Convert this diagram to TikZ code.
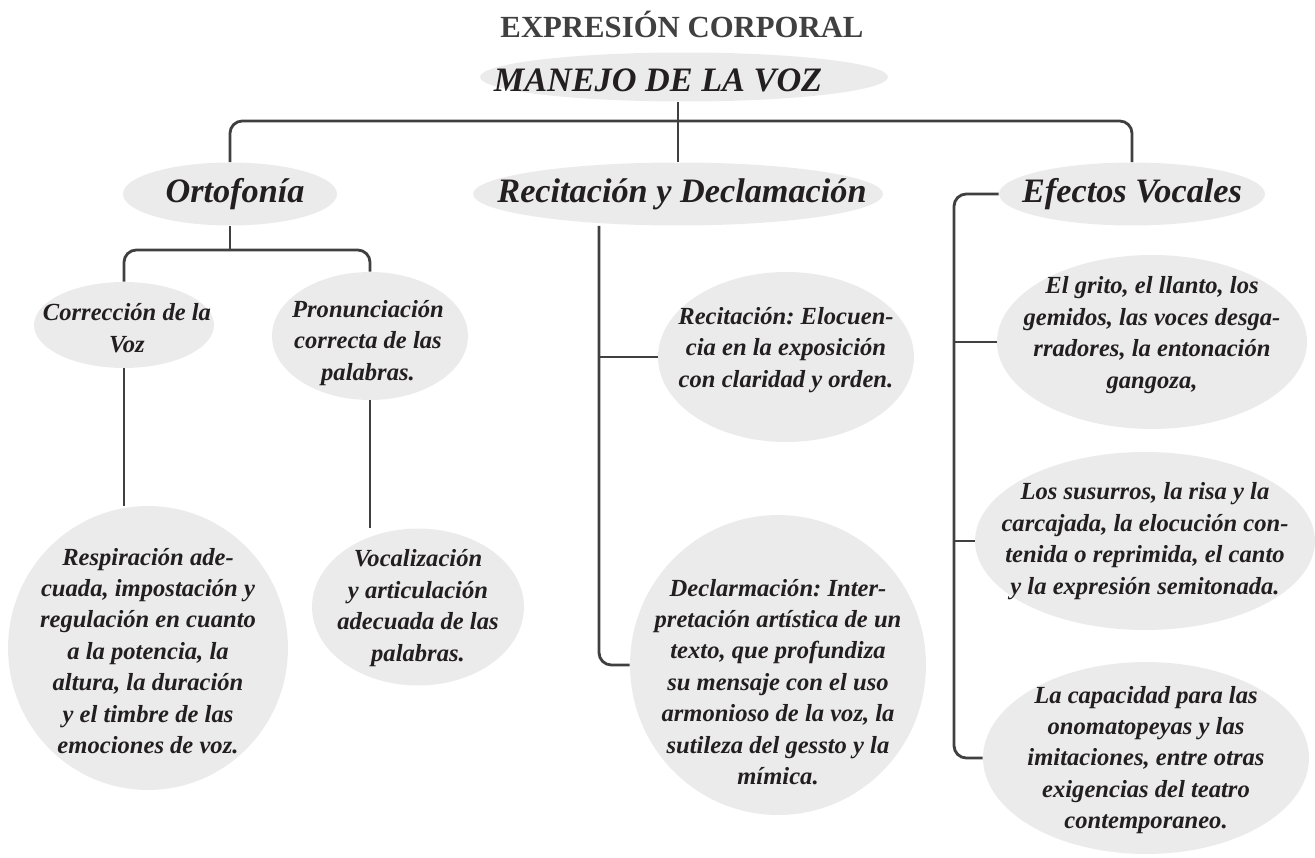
\documentclass[tikz,border=0pt]{standalone}
\usepackage{fontspec}
\setmainfont{Liberation Serif}
\usetikzlibrary{shapes.geometric,calc}
\definecolor{vozgray}{HTML}{EBEBEB}
\definecolor{vozline}{HTML}{404040}
\definecolor{voztext}{HTML}{231F20}
\frenchspacing

\begin{document}
\begin{tikzpicture}[
  x=0.02cm, y=-0.02cm,
  every node/.style={text=voztext},
  burbuja/.style={ellipse, fill=vozgray, inner sep=0pt},
  rama/.style={font=\fontsize{19.5}{23}\selectfont\bfseries\itshape},
  texto/.style={font=\fontsize{14}{17.9}\selectfont\bfseries\itshape, align=center},
  conector/.style={draw=vozline, line width=1.6pt, rounded corners=7pt}
]
\useasboundingbox (0,0) rectangle (1315,858);

% titulo
\node[font=\fontsize{17.5}{21}\selectfont\bfseries, text=vozline] (titulo) at (682,24) {EXPRESIÓN CORPORAL};

% MANEJO DE LA VOZ
\node[burbuja, minimum width=8.16cm, minimum height=0.98cm] (manejo) at (684,77) {};
\node[rama] at ($(manejo.center)+(-26,3)$) {MANEJO DE LA VOZ};

% ramas principales
\node[burbuja, minimum width=4.28cm, minimum height=1.26cm] (orto) at (230,194) {};
\node[rama] at ($(orto.center)+(5,0)$) {Ortofonía};
\node[burbuja, minimum width=8.2cm, minimum height=1.26cm] (recdec) at (678,194) {};
\node[rama] at ($(recdec.center)+(4,0)$) {Recitación y Declamación};
\node[burbuja, minimum width=5.32cm, minimum height=1.26cm] (efectos) at (1132,194) {};
\node[rama] at (efectos.center) {Efectos Vocales};

% Ortofonia
\node[burbuja, minimum width=3.6cm, minimum height=1.72cm] (correc) at (124,325) {};
\node[texto] at ($(correc.center)+(3,3)$) {Corrección de la\\Voz};
\node[burbuja, minimum width=3.92cm, minimum height=2.56cm] (pronun) at (370,336) {};
\node[texto] at ($(pronun.center)+(-2,7)$) {Pronunciación\\correcta de las\\palabras.};
\node[burbuja, minimum width=5.6cm, minimum height=5.68cm] (respir) at (148,648) {};
\node[texto] at ($(respir.center)+(0,3)$)
  {Respiración ade-\\cuada, impostación y\\regulación en cuanto\\a la potencia, la\\altura, la duración\\y el timbre de las\\emociones de voz.};
\node[burbuja, minimum width=4.24cm, minimum height=3.14cm] (vocal) at (418,607) {};
\node[texto] at ($(vocal.center)+(0,1)$) {Vocalización\\y articulación\\adecuada de las\\palabras.};

% Recitacion y Declamacion
\node[burbuja, minimum width=5.12cm, minimum height=3.4cm] (recit) at (786,357) {};
\node[texto] at ($(recit.center)+(0,-7)$) {Recitación: Elocuen-\\cia en la exposición\\con claridad y orden.};
\node[burbuja, minimum width=5.92cm, minimum height=6cm] (declar) at (778,665) {};
\node[texto] at ($(declar.center)+(0,17)$)
  {Declarmación: Inter-\\pretación artística de un\\texto, que profundiza\\su mensaje con el uso\\armonioso de la voz, la\\sutileza del gessto y la\\mímica.};

% Efectos Vocales
\node[burbuja, minimum width=6.2cm, minimum height=3.48cm] (grito) at (1152,342) {};
\node[texto] at ($(grito.center)+(0,-7)$) {El grito, el llanto, los\\gemidos, las voces desga-\\rradores, la entonación\\gangoza,};
\node[burbuja, minimum width=6.8cm, minimum height=3.56cm] (susur) at (1145,541) {};
\node[texto] at (susur.center) {Los susurros, la risa y la\\carcajada, la elocución con-\\tenida o reprimida, el canto\\y la expresión semitonada.};
\node[burbuja, minimum width=6.52cm, minimum height=3.84cm] (capac) at (1146,758) {};
\node[texto] at ($(capac.center)+(0,2)$) {La capacidad para las\\onomatopeyas y las\\imitaciones, entre otras\\exigencias del teatro\\contemporaneo.};

% conectores
\coordinate (barra) at (678,121);
\draw[conector] (orto.north) |- (barra) -| (efectos.north);
\draw[conector] (manejo.south -| recdec.north) -- (recdec.north);

\coordinate (ortobar) at (230,250);
\draw[conector] (orto.south) -- (ortobar);
\draw[conector] (correc.north) |- (ortobar) -| (pronun.north);
\draw[conector] (correc.south) -- (correc.south |- respir.north);
\draw[conector] (pronun.south) -- (pronun.south |- vocal.north);

\coordinate (recline) at (599,226);
\draw[conector] (recline) |- (declar.west);
\draw[conector] (recline |- recit.west) -- (recit.west);

\coordinate (efline) at (954,450);
\draw[conector] (efectos.west) -| (efline) |- (capac.west);
\draw[conector] (efline |- grito.west) -- (grito.west);
\draw[conector] (efline |- susur.west) -- (susur.west);
\end{tikzpicture}
\end{document}
